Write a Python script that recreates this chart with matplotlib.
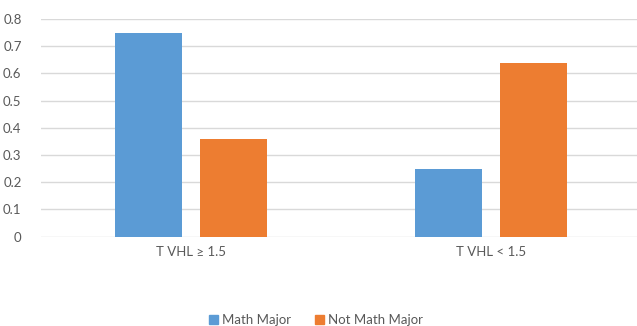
import numpy as np
from matplotlib import pyplot as plt
from matplotlib.patches import Patch

categories = ["T VHL \u2265 1.5", "T VHL < 1.5"]
math_major = [0.75, 0.25]
not_math_major = [0.36, 0.64]
yticks = [0, 0.1, 0.2, 0.3, 0.4, 0.5, 0.6, 0.7, 0.8]

blue = "#5B9BD5"
orange = "#ED7D31"
text_grey = "#595959"

plt.rcParams['font.family'] = ['Lato', 'DejaVu Sans']

fig = plt.figure(figsize=(6.37, 3.26), dpi=100)
ax = fig.add_axes([41 / 637, 89.3 / 326, 600 / 637, 217.7 / 326])

x = np.arange(len(categories))
w = 0.2257
off = 0.1417
ax.bar(x - off, math_major, w, color=blue, zorder=3)
ax.bar(x + off, not_math_major, w, color=orange, zorder=3)

ax.set_xlim(-0.5, 1.5)
ax.set_ylim(0, 0.8)
ax.set_yticks(yticks)
ax.set_yticklabels([("%g" % v) for v in yticks])
ax.set_xticks(x)
ax.set_xticklabels(categories)
ax.yaxis.grid(True, color="#D9D9D9", linewidth=1, zorder=0)
ax.tick_params(length=0, labelsize=9.5, labelcolor=text_grey)
ax.tick_params(axis='y', pad=14)
ax.tick_params(axis='x', pad=7)
for s in ax.spines.values():
    s.set_visible(False)

handles = [Patch(color=blue, label="Math Major"),
           Patch(color=orange, label="Not Math Major")]
fig.legend(handles=handles, loc="center", bbox_to_anchor=(316 / 637, 1 - 320 / 326),
           ncol=2, frameon=False, fontsize=9.5, labelcolor=text_grey,
           handlelength=0.7, handleheight=0.7, handletextpad=0.3, columnspacing=1.8)

plt.savefig("out.png", dpi=100)
